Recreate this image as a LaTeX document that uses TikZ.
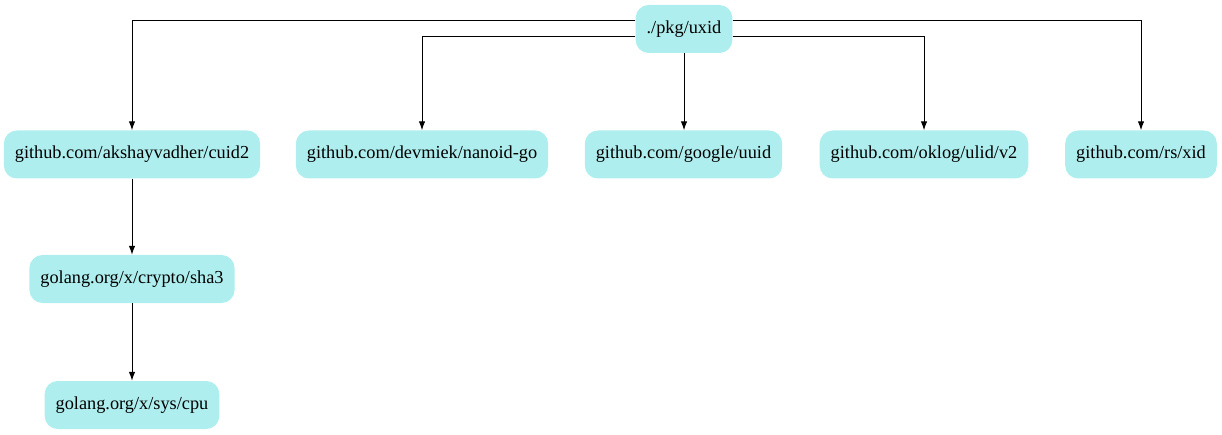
\documentclass[tikz,border=0pt]{standalone}
\usepackage{fontspec}
\setmainfont{Liberation Serif}
\usetikzlibrary{arrows.meta}
\definecolor{pt}{HTML}{AFEEEE}
\begin{document}
\begin{tikzpicture}[x=1pt,y=-1pt,
  pkg/.style={fill=pt, draw=none, rounded corners=13pt, minimum height=48pt, inner xsep=11pt, font=\fontsize{18.3}{20}\selectfont},
  dep/.style={draw=black, line width=1pt, -{Latex[length=9pt,width=6.5pt]}}]
\useasboundingbox (0,0) rectangle (1222,435);
\node[pkg] (top) at (684,29) {./pkg/uxid};
\node[pkg] (cuid) at (132,154.5) {github.com/akshayvadher/cuid2};
\node[pkg] (nano) at (422,154.5) {github.com/devmiek/nanoid-go};
\node[pkg] (uuid) at (683.5,154.5) {github.com/google/uuid};
\node[pkg] (ulid) at (924,154.5) {github.com/oklog/ulid/v2};
\node[pkg] (xid) at (1141,154.5) {github.com/rs/xid};
\node[pkg] (sha) at (132,279) {golang.org/x/crypto/sha3};
\node[pkg] (cpu) at (132,405) {golang.org/x/sys/cpu};
\draw[dep] (top.west |- 0,21) -| (cuid.north);
\draw[dep] (top.west |- 0,37) -| (nano.north);
\draw[dep] (top.south) -- (uuid.north -| top.south);
\draw[dep] (top.east |- 0,37) -| (ulid.north);
\draw[dep] (top.east |- 0,21) -| (xid.north);
\draw[dep] (cuid.south) -- (sha.north);
\draw[dep] (sha.south) -- (cpu.north);
\end{tikzpicture}
\end{document}
